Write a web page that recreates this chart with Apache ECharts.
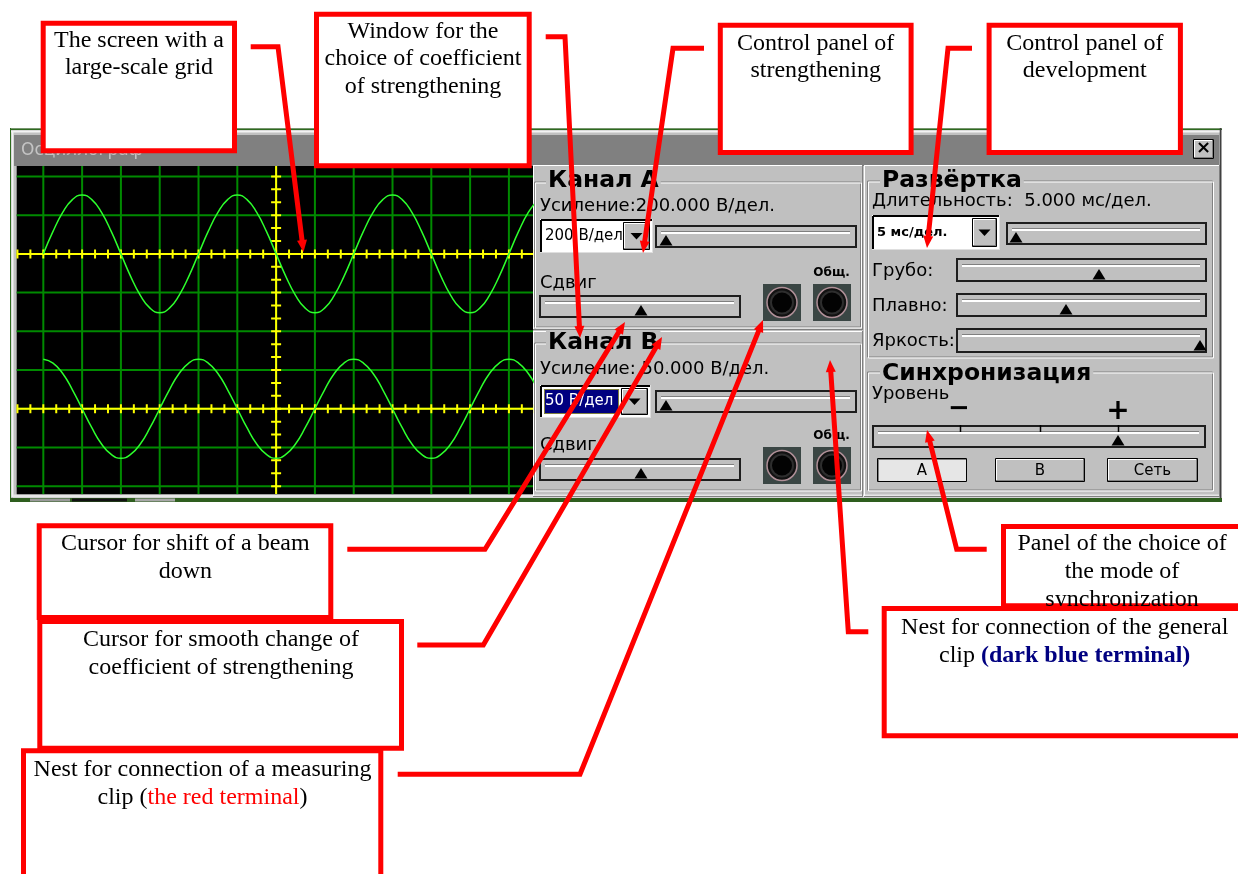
<!DOCTYPE html>
<html>
<head>
<meta charset="utf-8">
<script src="https://cdn.jsdelivr.net/npm/echarts@6/dist/echarts.min.js"></script>
<style>
html,body{margin:0;padding:0;background:#ffffff;}
#c{width:1238px;height:874px;}
</style>
</head>
<body>
<div id="c"></div>
<script>
// ---------------- data (screen divisions) ----------------
// horizontal position on the scope screen, in divisions from the centre line
const timeDiv = [-6,-5.75,-5.5,-5.25,-5,-4.75,-4.5,-4.25,-4,-3.75,-3.5,-3.25,-3,-2.75,-2.5,-2.25,
  -2,-1.75,-1.5,-1.25,-1,-0.75,-0.5,-0.25,0,0.25,0.5,0.75,1,1.25,1.5,1.75,
  2,2.25,2.5,2.75,3,3.25,3.5,3.75,4,4.25,4.5,4.75,5,5.25,5.5,5.75,6,6.25,6.5,6.75];
// channel A trace (upper beam, zero line at +2 div)
const chanA = [2.00,2.58,3.07,3.40,3.52,3.40,3.07,2.58,2.00,1.42,0.93,0.60,0.48,0.60,0.93,1.42,
  2.00,2.58,3.07,3.40,3.52,3.40,3.07,2.58,2.00,1.42,0.93,0.60,0.48,0.60,0.93,1.42,
  2.00,2.58,3.07,3.40,3.52,3.40,3.07,2.58,2.00,1.42,0.93,0.60,0.48,0.60,0.93,1.42,
  2.00,2.58,3.07,3.40];
// channel B trace (lower beam, zero line at -2 div)
const chanB = [-0.72,-0.82,-1.09,-1.51,-2.00,-2.49,-2.91,-3.18,-3.28,-3.18,-2.91,-2.49,-2.00,-1.51,-1.09,-0.82,
  -0.72,-0.82,-1.09,-1.51,-2.00,-2.49,-2.91,-3.18,-3.28,-3.18,-2.91,-2.49,-2.00,-1.51,-1.09,-0.82,
  -0.72,-0.82,-1.09,-1.51,-2.00,-2.49,-2.91,-3.18,-3.28,-3.18,-2.91,-2.49,-2.00,-1.51,-1.09,-0.82,
  -0.72,-0.82,-1.09,-1.51];
// large-scale grid lines
const gridX = [-6,-5,-4,-3,-2,-1,0,1,2,3,4,5,6];
const gridY = [-4,-3,-2,-1,0,1,2,3,4];
// yellow beam zero lines and their fine ticks (in thirds of a division)
const axisBaseY = [2,-2];
const tickThirdsX = [-20,-19,-18,-17,-16,-15,-14,-13,-12,-11,-10,-9,-8,-7,-6,-5,-4,-3,-2,-1,0,
  1,2,3,4,5,6,7,8,9,10,11,12,13,14,15,16,17,18,19,20];
const tickThirdsY = [-12,-11,-10,-9,-8,-7,-6,-5,-4,-3,-2,-1,0,1,2,3,4,5,6,7,8,9,10,11,12];

// ---------------- layout ----------------
const X_MIN = -6.686, X_MAX = 6.621, Y_MIN = -4.21, Y_MAX = 4.27;
const GRID_COLOR = '#008a00', YEL = '#ffff00', TRACE = '#2cff2c';
const UI = '"DejaVu Sans", "Liberation Sans", sans-serif';
const SERIF = '"Liberation Serif", "Times New Roman", serif';
const NOTE_DY = 2;

const G = [];
function add(el, z){ el.z = (z == null ? 1 : z); el.silent = true; G.push(el); return el; }
function R(x,y,w,h,fill,stroke,lw,z,extra){ return add({type:'rect', shape:{x:x,y:y,width:w,height:h}, style:Object.assign({fill:fill||'none', stroke:stroke||'none', lineWidth:lw||0}, extra||{})}, z); }
function L(x1,y1,x2,y2,c,lw,z){ return add({type:'line', shape:{x1:x1,y1:y1,x2:x2,y2:y2}, style:{stroke:c, lineWidth:lw||1}}, z); }
function P(points, fill, z){ return add({type:'polygon', shape:{points:points}, style:{fill:fill}}, z); }
function PL(points, c, lw, z){ return add({type:'polyline', shape:{points:points}, style:{stroke:c, lineWidth:lw, fill:'none', lineJoin:'miter', lineCap:'butt'}}, z); }
function C(cx,cy,r,fill,stroke,lw,z){ return add({type:'circle', shape:{cx:cx,cy:cy,r:r}, style:{fill:fill, stroke:stroke||'none', lineWidth:lw||0}}, z); }
function T(x,y,s,font,fill,align,z,extra){ return add({type:'text', x:x, y:y, style:Object.assign({text:s, font:font, fill:fill||'#000', textAlign:align||'left', textVerticalAlign:'middle'}, extra||{})}, z == null ? 2 : z); }

function raised(x,y,w,h,z){
  L(x,y+0.5,x+w,y+0.5,'#ffffff',1,z); L(x+0.5,y,x+0.5,y+h,'#ffffff',1,z);
  L(x,y+h-0.5,x+w,y+h-0.5,'#808080',1,z); L(x+w-0.5,y,x+w-0.5,y+h,'#808080',1,z);
}
function etched(x,y,w,h,z){ R(x+0.5,y+0.5,w,h,'none','#808080',1,z); R(x+1.5,y+1.5,w,h,'none','#ffffff',1,z); }
function button(x,y,w,h,z,pressed){
  R(x,y,w,h, pressed ? '#e6e6e6' : '#c0c0c0','none',0,z);
  if (!pressed){
    L(x+1,y+1.5,x+w-1,y+1.5,'#ffffff',1,z); L(x+1.5,y+1,x+1.5,y+h-1,'#ffffff',1,z);
    L(x+1,y+h-1.5,x+w-1,y+h-1.5,'#808080',1,z); L(x+w-1.5,y+1,x+w-1.5,y+h-1,'#808080',1,z);
  } else {
    L(x+1,y+1.5,x+w-1,y+1.5,'#808080',1,z); L(x+1.5,y+1,x+1.5,y+h-1,'#808080',1,z);
  }
  R(x+0.5,y+0.5,w-1,h-1,'none','#000000',1,z);
}
function track(x,y,w,h,t,z){
  R(x+1,y+1,w-2,h-2,'#c0c0c0','#1e1e1e',2,z);
  L(x+6,y+6.5,x+w-7,y+6.5,'#808080',1,z);
  L(x+6,y+8,x+w-7,y+8,'#ffffff',2,z);
  P([[t-6.5,y+h-2.5],[t+6.5,y+h-2.5],[t,y+h-13]],'#000000',z);
}
function combo(x,y,w,h,bw,label,font,selected,z){
  R(x,y,w,h,'#ffffff','none',0,z);
  L(x+1,y+1,x+w-1,y+1,'#000000',2,z); L(x+1,y+1,x+1,y+h-1,'#000000',2,z);
  L(x,y+h-0.5,x+w,y+h-0.5,'#dfdfdf',1,z); L(x+w-0.5,y,x+w-0.5,y+h,'#dfdfdf',1,z);
  const bx = x+w-bw-3, by = y+3, bh = h-6;
  if (selected){
    R(x+4,y+4,bx-x-6,h-8,'#000080','none',0,z);
    R(x+4.5,y+4.5,bx-x-7,h-9,'none','#ffff00',1,z,{lineDash:[1,1]});
  }
  T(x+5,y+h/2,label,font,selected ? '#ffffff' : '#000000','left',z);
  button(bx,by,bw,bh,z);
  P([[bx+bw/2-6,by+bh/2-3],[bx+bw/2+6,by+bh/2-3],[bx+bw/2,by+bh/2+3.5]],'#000000',z);
}
function jack(x,y,z){
  R(x,y,38,37,'#3a4644','none',0,z);
  C(x+19,y+18.5,15,'#121212','#b09098',1.5,z);
  C(x+19,y+18.5,11,'#030303','#2e2e2e',2,z);
}
function box(x1,y1,x2,y2){ R(x1+2.5,y1+2.5,x2-x1-5,y2-y1-5,'#ffffff','#ff0000',5,50); }
function note(x,y,s,extra){ T(x,y+NOTE_DY,s,'24px '+SERIF,'#000000','center',50,extra); }
function leader(pts){
  const n = pts.length, tip = pts[n-1], prev = pts[n-2];
  const dx = tip[0]-prev[0], dy = tip[1]-prev[1], len = Math.hypot(dx,dy);
  const ux = dx/len, uy = dy/len, hl = 12, hw = 5;
  const base = [tip[0]-ux*hl, tip[1]-uy*hl];
  PL(pts.slice(0,n-1).concat([[tip[0]-ux*(hl-3), tip[1]-uy*(hl-3)]]),'#ff0000',5,51);
  P([tip,[base[0]-uy*hw, base[1]+ux*hw],[base[0]+uy*hw, base[1]-ux*hw]],'#ff0000',51);
}

// ---------- oscilloscope window ----------
R(10,128,1212,374,'#c0c0c0','none',0,0);
R(10,128.5,1212,1.5,'#2e6b1e','none',0,0);
L(10.5,128,10.5,502,'#2e6b1e',1,0);
L(12.5,131,12.5,497,'#f2f2f2',2,0);
L(11,131.5,1221,131.5,'#f2f2f2',2,0);
L(1220.5,128,1220.5,502,'#404040',1.5,0);
R(14,135,1205,31,'#808080','none',0,0);
T(21,151,'Осциллограф','17px '+UI,'#c4c4c4','left',1);
button(1193,139,21,20,1);
T(1203.5,148.5,'×','bold 18px '+UI,'#000000','center',1);
L(13,496,1219,496,'#e6e6e6',3,0);
R(10,498,1212,4,'#2e5e1e','none',0,0);
R(30,498.5,40,3,'#9a9a9a','none',0,0); R(72,498.5,55,3,'#111111','none',0,0); R(135,498.5,40,3,'#a8a8a8','none',0,0);
R(16.7,166,516.3,328.3,'#000000','none',0,0);

// ---------- channel panels ----------
raised(533,165,330,165,1); raised(533,331,330,166,1); raised(864,165,356,332,1);
etched(534,181.5,326,145,1); etched(534,342.5,326,147,1);
etched(867,180.5,345,176,1); etched(867,371.5,345,118,1);

const hdr = {backgroundColor:'#c0c0c0', padding:[0,2,0,2]};
const H = 'bold 23.5px '+UI, F = '18px '+UI;
T(546,181,'Канал А',H,'#000','left',2,hdr);
T(540,206,'Усиление:200.000 В/дел.',F);
combo(540,219,113,34,27,'200 В/дел','15px '+UI,false,2);
track(655,225,202,23,666,2);
T(540,283,'Сдвиг',F);
track(539,295,202,23,641,2);
T(831.5,273,'Общ.','bold 12px '+UI,'#000','center');
jack(763,284,2); jack(813,284,2);

T(546,343,'Канал В',H,'#000','left',2,hdr);
T(540,369,'Усиление: 50.000 В/дел.',F);
combo(540,385,111,33,27,'50 В/дел','15px '+UI,true,2);
track(655,390,202,23,666,2);
T(540,445,'Сдвиг',F);
track(539,458,202,23,641,2);
T(831.5,436,'Общ.','bold 12px '+UI,'#000','center');
jack(763,447,2); jack(813,447,2);

// ---------- sweep / sync ----------
T(880,181,'Развёртка',H,'#000','left',2,hdr);
T(872,201,'Длительность:  5.000 мс/дел.',F);
combo(872,215,128,35,25,'5 мс/дел.','bold 13px '+UI,false,2);
track(1006,222,201,23,1016,2);
T(872,271,'Грубо:',F);  track(956,258,251,24,1099,2);
T(872,306,'Плавно:',F); track(956,293,251,24,1066,2);
T(872,341,'Яркость:',F); track(956,328,251,25,1200,2);
T(880,374,'Синхронизация',H,'#000','left',2,hdr);
T(872,394,'Уровень',F);
T(959,409,'−','bold 26px '+UI,'#000','center');
T(1118,412,'+','bold 28px '+UI,'#000','center');
track(872,425,334,23,1118,2);
L(960.5,425,960.5,432,'#000',1.5,2); L(1040.5,425,1040.5,432,'#000',1.5,2); L(1118.5,425,1118.5,432,'#000',1.5,2);
button(877,458,90,24,2,true);  T(922,471,'А','15px '+UI,'#000','center');
button(995,458,90,24,2,false); T(1040,471,'В','15px '+UI,'#000','center');
button(1107,458,91,24,2,false); T(1152.5,471,'Сеть','15px '+UI,'#000','center');

// ---------- annotations ----------
box(40.7,20.7,237,153.3);   note(139,38.6,'The screen with a'); note(139,66.2,'large-scale grid');
box(314,11.7,531.7,168.3);  note(423,29.3,'Window for the'); note(423,57,'choice of coefficient'); note(423,84.6,'of strengthening');
box(717.8,22.7,913.6,155);  note(815.7,41.3,'Control panel of'); note(815.7,69,'strengthening');
box(986.6,22.7,1182.9,155); note(1084.8,41.3,'Control panel of'); note(1084.8,69,'development');
box(36.7,523.3,333.3,620);  note(185.3,542,'Cursor for shift of a beam'); note(185.3,570,'down');
box(37.3,619,404,750.7);    note(221,638,'Cursor for smooth change of'); note(221,666,'coefficient of strengthening');
box(21,748.3,383.3,885);    note(202.5,767.3,'Nest for connection of a measuring');
note(202.5,795.3,'{a|clip (}{r|the red terminal}{a|)}',{rich:{a:{font:'24px '+SERIF, fill:'#000000'}, r:{font:'24px '+SERIF, fill:'#ff0000'}}});
box(1001,524,1246,608.3);   note(1122,542,'Panel of the choice of'); note(1122,570,'the mode of'); note(1122,598,'synchronization');
box(881.7,606,1248,738.3);  note(1064.7,625.3,'Nest for connection of the general');
note(1064.7,653.3,'{a|clip }{b|(dark blue terminal)}',{rich:{a:{font:'24px '+SERIF, fill:'#000000'}, b:{font:'bold 24px '+SERIF, fill:'#000080'}}});

leader([[250.7,46.7],[278,46.7],[303.5,252]]);
leader([[545.7,36.7],[565,36.7],[580,338]]);
leader([[704,48.3],[673,48.3],[643,253]]);
leader([[972,48.3],[948,48.3],[927,248]]);
leader([[347.3,549.3],[485,549.3],[625,322]]);
leader([[417.3,645],[483.3,645],[662,337]]);
leader([[397.7,774.3],[580,774.3],[763,320]]);
leader([[986.7,549.3],[956.7,549.3],[927,430]]);
leader([[868.3,631.7],[848.3,631.7],[830,360]]);

// ---------- chart ----------
function seg(a,b,color,w){ return {type:'line', shape:{x1:a[0],y1:a[1],x2:b[0],y2:b[1]}, style:{stroke:color, lineWidth:w}}; }
const chart = echarts.init(document.getElementById('c'), null, {renderer:'canvas'});
chart.setOption({
  animation:false,
  backgroundColor:'#ffffff',
  grid:{left:16.7, top:166, width:516.3, height:328.3, containLabel:false},
  xAxis:{type:'value', min:X_MIN, max:X_MAX, show:false},
  yAxis:{type:'value', min:Y_MIN, max:Y_MAX, show:false},
  graphic:{elements:G},
  series:[
    {type:'custom', z:3, silent:true, clip:true, encode:{x:0,y:1}, data:gridX.map(v=>[v,0]),
     renderItem:(p,api)=>seg(api.coord([api.value(0),Y_MIN]), api.coord([api.value(0),Y_MAX]), GRID_COLOR, 2)},
    {type:'custom', z:3, silent:true, clip:true, encode:{x:0,y:1}, data:gridY.map(v=>[0,v]),
     renderItem:(p,api)=>seg(api.coord([X_MIN,api.value(1)]), api.coord([X_MAX,api.value(1)]), GRID_COLOR, 2)},
    {type:'custom', z:4, silent:true, clip:true, encode:{x:0,y:1}, data:axisBaseY.map(v=>[0,v]),
     renderItem:(p,api)=>seg(api.coord([X_MIN,api.value(1)]), api.coord([X_MAX,api.value(1)]), YEL, 2)},
    {type:'custom', z:4, silent:true, clip:true, encode:{x:0,y:1}, data:[[0,0]],
     renderItem:(p,api)=>seg(api.coord([0,Y_MIN]), api.coord([0,Y_MAX]), YEL, 2)},
    {type:'custom', z:4, silent:true, clip:true, encode:{x:0,y:1},
     data:axisBaseY.reduce((acc,b)=>acc.concat(tickThirdsX.map(k=>[k/3,b])),[]),
     renderItem:(p,api)=>{const c=api.coord([api.value(0),api.value(1)]); return seg([c[0],c[1]-4.5],[c[0],c[1]+4.5],YEL,2);}},
    {type:'custom', z:4, silent:true, clip:true, encode:{x:0,y:1}, data:tickThirdsY.map(k=>[0,k/3]),
     renderItem:(p,api)=>{const c=api.coord([api.value(0),api.value(1)]); return seg([c[0]-5,c[1]],[c[0]+5,c[1]],YEL,2);}},
    {type:'line', name:'Канал А', z:6, silent:true, smooth:true, showSymbol:false, clip:true,
     lineStyle:{color:TRACE, width:1.5}, data:timeDiv.map((t,i)=>[t,chanA[i]])},
    {type:'line', name:'Канал В', z:6, silent:true, smooth:true, showSymbol:false, clip:true,
     lineStyle:{color:TRACE, width:1.5}, data:timeDiv.map((t,i)=>[t,chanB[i]])}
  ]
});
</script>
</body>
</html>
